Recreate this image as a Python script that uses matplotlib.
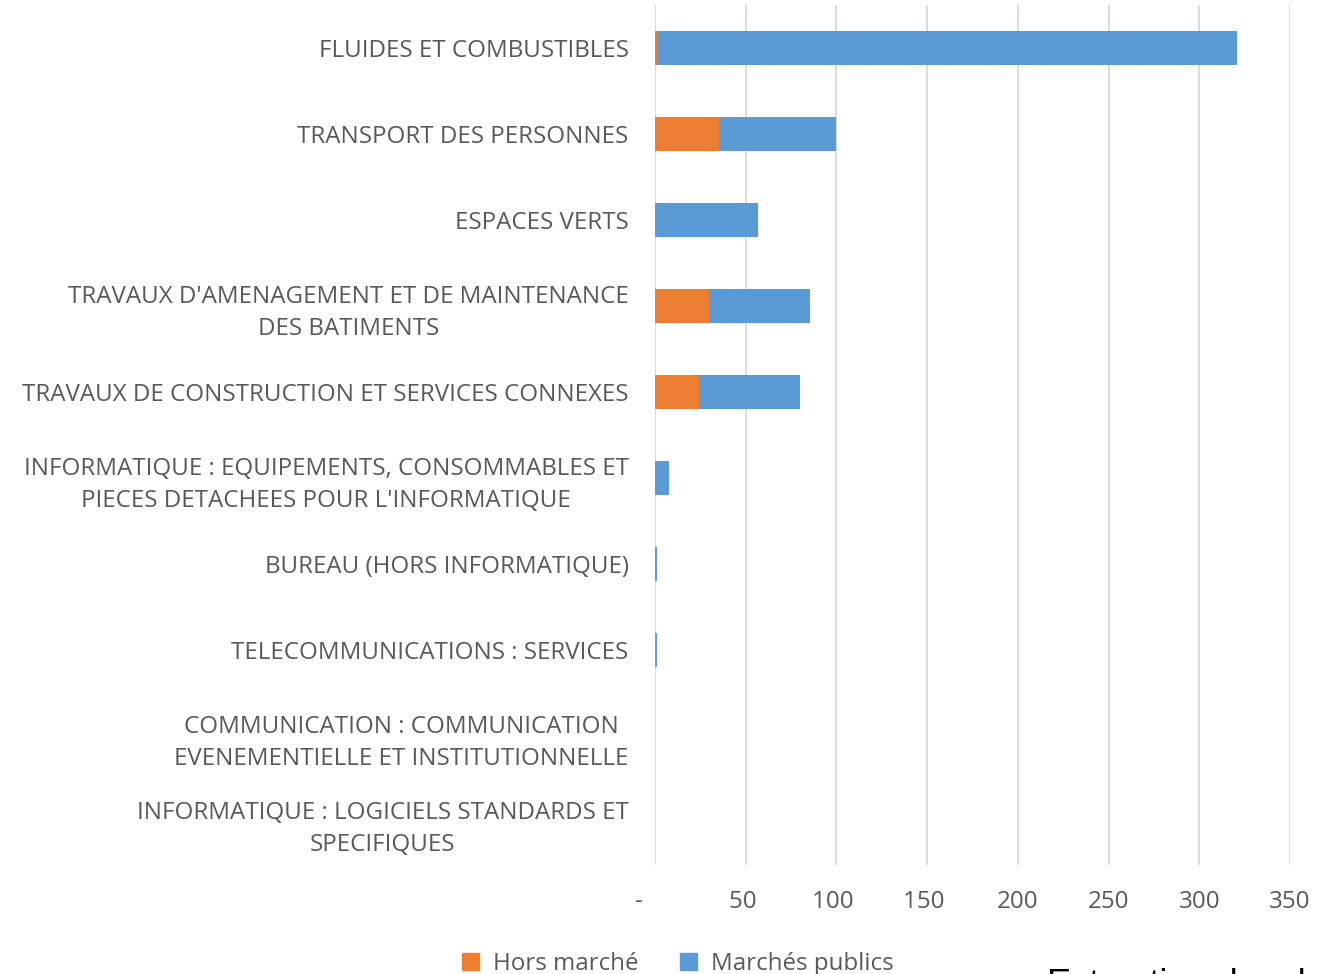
import matplotlib
matplotlib.use("Agg")
import matplotlib.pyplot as plt
from matplotlib.patches import Patch

# Data, top to bottom
categories = [
    "FLUIDES ET COMBUSTIBLES",
    "TRANSPORT DES PERSONNES",
    "ESPACES VERTS",
    "TRAVAUX D'AMENAGEMENT ET DE MAINTENANCE\nDES BATIMENTS",
    "TRAVAUX DE CONSTRUCTION ET SERVICES CONNEXES",
    "INFORMATIQUE : EQUIPEMENTS, CONSOMMABLES ET\nPIECES DETACHEES POUR L'INFORMATIQUE",
    "BUREAU (HORS INFORMATIQUE)",
    "TELECOMMUNICATIONS : SERVICES",
    "COMMUNICATION : COMMUNICATION\nEVENEMENTIELLE ET INSTITUTIONNELLE",
    "INFORMATIQUE : LOGICIELS STANDARDS ET\nSPECIFIQUES",
]
hors_marche = [1.0, 35.0, 0.0, 30.0, 24.0, 0.0, 0.0, 0.8, 0.0, 0.0]
marches_publics = [320.0, 65.0, 57.0, 55.5, 56.0, 7.7, 1.0, 0.4, 0.0, 0.0]
xticks = [0, 50, 100, 150, 200, 250, 300, 350]
xticklabels = ["-     ", "50 ", "100 ", "150 ", "200", "250", "300", "350"]

ORANGE = "#ED7D31"
BLUE = "#5B9BD5"
TEXT = "#595959"
GRID = "#D9D9D9"
FONT = "Open Sans"
FS = 17.4

W, H = 1317, 974
fig = plt.figure(figsize=(W / 100, H / 100), dpi=100)
ax = fig.add_axes([655 / W, 1 - 865 / H, (1290 - 655) / W, (865 - 5) / H])

y = list(range(len(categories)))
ax.barh(y, hors_marche, height=0.4, color=ORANGE, label="Hors marché", zorder=3)
ax.barh(y, marches_publics, left=hors_marche, height=0.4, color=BLUE,
        label="Marchés publics", zorder=3)

ax.set_ylim(len(categories) - 0.5, -0.5)
ax.set_xlim(0, 350)
ax.set_yticks(y)
ax.set_yticklabels(categories, fontsize=FS, color=TEXT, family=FONT,
                   multialignment="center", linespacing=1.45)
ax.set_xticks(xticks)
ax.set_xticklabels(xticklabels, fontsize=FS, color=TEXT, family=FONT)
ax.tick_params(axis="y", length=0, pad=19)
ax.tick_params(axis="x", length=0, pad=18)
ax.grid(axis="x", color=GRID, linewidth=1.3, zorder=0)
for s in ax.spines.values():
    s.set_visible(False)

handles = [Patch(color=ORANGE, label="Hors marché"),
           Patch(color=BLUE, label="Marchés publics")]
leg = fig.legend(handles=handles, loc="center", bbox_to_anchor=(678 / W, 1 - 964 / H),
                 ncol=2, frameon=False, handlelength=0.7, handleheight=0.7,
                 columnspacing=1.7, handletextpad=0.6,
                 prop={"family": FONT, "size": FS})
for t in leg.get_texts():
    t.set_color(TEXT)

fig.text(1047 / W, 1 - 968 / H, "Extraction des données", fontsize=26,
         family="Liberation Sans", color="black", ha="left", va="top")

fig.savefig("out.png", dpi=100, facecolor="white")
